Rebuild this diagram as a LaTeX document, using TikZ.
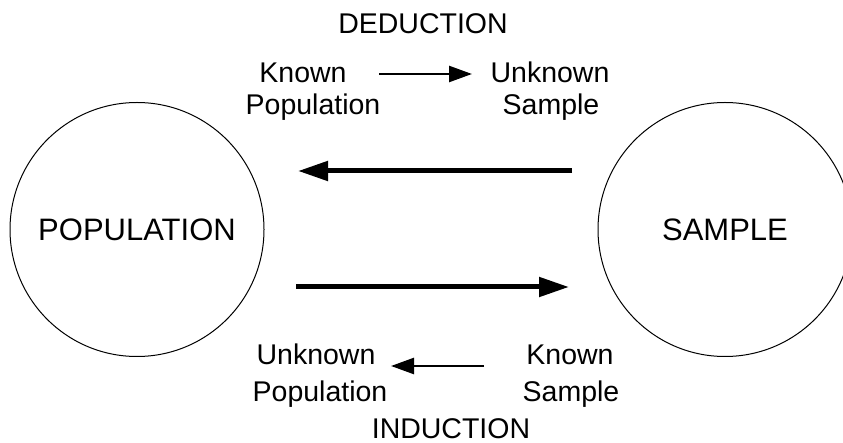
\documentclass[tikz,border=0pt]{standalone}
\usepackage{fontspec}
\setmainfont{Liberation Sans}
\usetikzlibrary{arrows.meta}
\begin{document}
\begin{tikzpicture}[x=1pt,y=-1pt,
  lbl/.style={anchor=base,inner sep=0pt,font=\fontsize{28.5}{34}\selectfont},
  big/.style={circle,draw,line width=1pt,minimum size=254pt,inner sep=0pt,font=\fontsize{31}{37}\selectfont},
  bigarrow/.style={line width=5pt,-{Triangle[length=30pt,width=19pt]}},
  smallarrow/.style={line width=2.5pt,-{Triangle[length=23pt,width=16pt]}}]
\useasboundingbox (0,0) rectangle (843,443);
\clip (0,0) rectangle (843,443);
\node[big] (pop) at (137,229.5) {POPULATION};
\node[big] (sam) at (725,229.5) {SAMPLE};
% top labels
\node[lbl] (ded) at (423,33.3) {DEDUCTION};
\node[lbl] (kp1) at (303,83) {Known};
\node[lbl] (kp2) at (313,115) {Population};
\node[lbl] (us1) at (550,83) {Unknown};
\node[lbl] (us2) at (551,115) {Sample};
% bottom labels
\node[lbl] (up1) at (316,365) {Unknown};
\node[lbl] (up2) at (320,401.7) {Population};
\node[lbl] (ks1) at (570,365) {Known};
\node[lbl] (ks2) at (571,401.7) {Sample};
\node[lbl] (ind) at (451,438.3) {INDUCTION};
% arrows
\coordinate (da1) at (379,74);
\coordinate (da2) at (472,74);
\coordinate (ia1) at (484,366);
\coordinate (ia2) at (391,366);
\coordinate (ba1) at (572,171);
\coordinate (ba2) at (298,171);
\coordinate (bb1) at (296,287);
\coordinate (bb2) at (569,287);
\draw[smallarrow] (da1) -- (da2);
\draw[smallarrow] (ia1) -- (ia2);
\draw[bigarrow] (ba1) -- (ba2);
\draw[bigarrow] (bb1) -- (bb2);
\end{tikzpicture}
\end{document}
